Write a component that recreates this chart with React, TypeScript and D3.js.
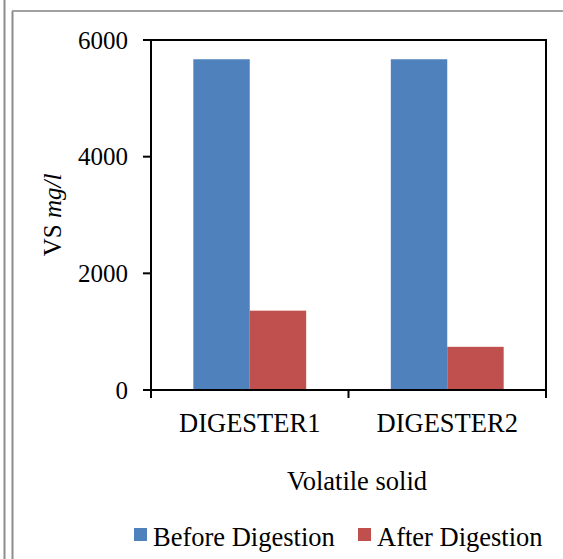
import React from "react";
import * as d3 from "d3";

const categories = ["DIGESTER1", "DIGESTER2"];
const seriesNames = ["Before Digestion", "After Digestion"];
const beforeDigestion = [5670, 5670];
const afterDigestion = [1360, 740];
const yTicks = [0, 2000, 4000, 6000];
const seriesColors = ["#4F81BD", "#C0504D"];

const W = 563;
const H = 559;
const margin = { left: 151, right: 17, top: 40, bottom: 169 };
const FONT = "'Liberation Serif', 'Times New Roman', serif";
const LABEL_SIZE = 26.5;

export default function App() {
  const x0 = d3
    .scaleBand<string>()
    .domain(categories)
    .range([margin.left, W - margin.right])
    .paddingInner(0)
    .paddingOuter(0);
  const x1 = d3
    .scaleBand<string>()
    .domain(seriesNames)
    .range([0, x0.bandwidth()])
    .paddingOuter(0.75)
    .paddingInner(0);
  const y = d3
    .scaleLinear()
    .domain([0, 6000])
    .range([H - margin.bottom, margin.top]);

  const series = [beforeDigestion, afterDigestion];
  const x0Left = margin.left;
  const x0Right = W - margin.right;
  const yBase = y(0);
  const yTop = y(6000);
  const tickBounds = [x0Left, ...categories.map((c) => (x0(c) as number) + x0.bandwidth())];

  return (
    <div style={{ position: "absolute", left: 0, top: 0 }}>
      <svg width={W} height={H} style={{ display: "block", background: "#fff" }}>
        {/* outer frame */}
        <line x1={4.5} y1={0} x2={4.5} y2={H} stroke="#8c8c8c" strokeWidth={2} />
        <line x1={12.5} y1={11} x2={12.5} y2={H} stroke="#8c8c8c" strokeWidth={2} />
        <line x1={12} y1={11} x2={W} y2={11} stroke="#a0a0a0" strokeWidth={2} />

        {/* bars */}
        {categories.map((c, ci) =>
          seriesNames.map((s, si) => {
            const bx = (x0(c) as number) + (x1(s) as number);
            const by = y(series[si][ci]);
            return (
              <rect
                key={c + s}
                x={bx}
                y={by}
                width={x1.bandwidth()}
                height={yBase - by}
                fill={seriesColors[si]}
              />
            );
          })
        )}

        {/* plot box */}
        <line x1={x0Left - 8} y1={yTop} x2={x0Right + 1} y2={yTop} stroke="#000" strokeWidth={2} />
        <line x1={x0Right} y1={yTop} x2={x0Right} y2={yBase} stroke="#000" strokeWidth={2} />
        <line x1={x0Left} y1={yTop} x2={x0Left} y2={yBase + 1} stroke="#000" strokeWidth={2} />
        <line x1={x0Left - 8} y1={yBase} x2={x0Right + 1} y2={yBase} stroke="#000" strokeWidth={2} />

        {/* y ticks */}
        {yTicks.map((t) => (
          <g key={t}>
            <line x1={x0Left - 8} x2={x0Left} y1={y(t)} y2={y(t)} stroke="#000" strokeWidth={2} />
            <text
              x={128}
              y={y(t)}
              dy="0.34em"
              textAnchor="end"
              fontFamily={FONT}
              fontSize={25}
              fill="#000"
            >
              {t}
            </text>
          </g>
        ))}

        {/* x ticks */}
        {tickBounds.map((tx, i) => (
          <line key={i} x1={tx} x2={tx} y1={yBase} y2={yBase + 8} stroke="#000" strokeWidth={2} />
        ))}
        {categories.map((c) => (
          <text
            key={c}
            x={(x0(c) as number) + x0.bandwidth() / 2}
            y={432}
            textAnchor="middle"
            fontFamily={FONT}
            fontSize={LABEL_SIZE}
            fill="#000"
          >
            {c}
          </text>
        ))}

        {/* axis titles */}
        <text
          transform={`translate(61, ${(yTop + yBase) / 2}) rotate(-90)`}
          textAnchor="middle"
          fontFamily={FONT}
          fontSize={25}
          fill="#000"
        >
          VS <tspan fontStyle="italic">mg/l</tspan>
        </text>
        <text x={357} y={490} textAnchor="middle" fontFamily={FONT} fontSize={LABEL_SIZE} fill="#000">
          Volatile solid
        </text>

        {/* legend */}
        {seriesNames.map((s, i) => {
          const lx = [134, 358][i];
          return (
            <g key={s}>
              <rect x={lx} y={528} width={13} height={13} fill={seriesColors[i]} />
              <text x={lx + 19} y={546} fontFamily={FONT} fontSize={LABEL_SIZE} fill="#000">
                {s}
              </text>
            </g>
          );
        })}
      </svg>
    </div>
  );
}
